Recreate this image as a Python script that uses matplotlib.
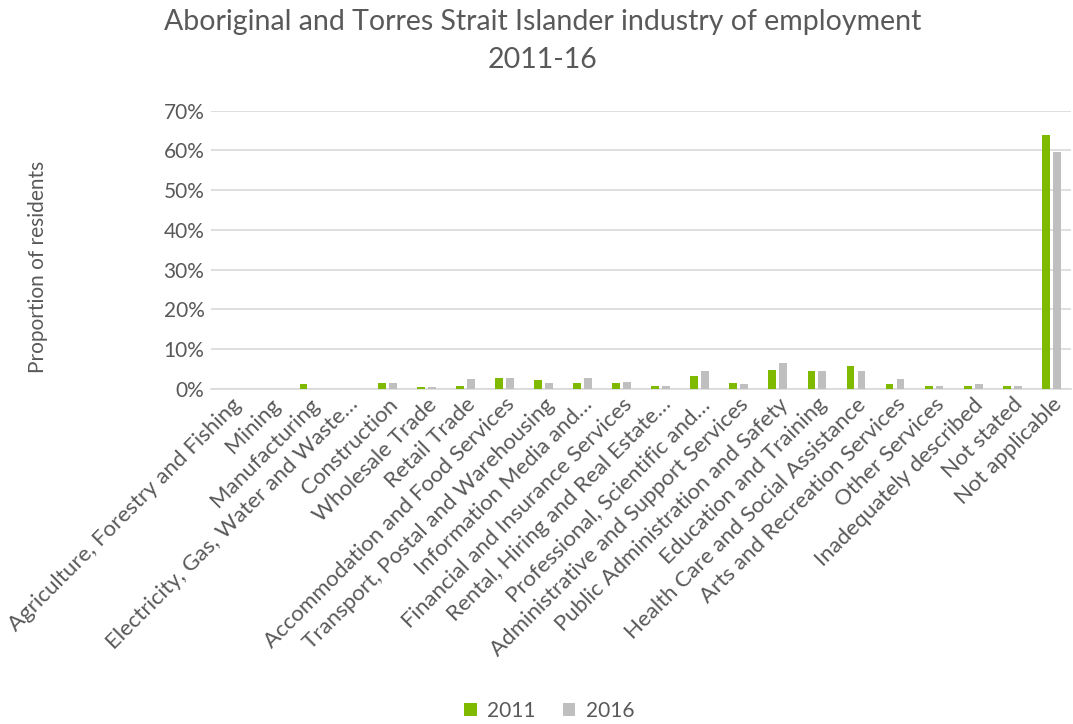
import numpy as np
import matplotlib.pyplot as plt
from matplotlib.ticker import FuncFormatter

plt.rcParams['font.family'] = ['Lato', 'DejaVu Sans']

industries = [
    "Agriculture, Forestry and Fishing",
    "Mining",
    "Manufacturing",
    "Electricity, Gas, Water and Waste…",
    "Construction",
    "Wholesale Trade",
    "Retail Trade",
    "Accommodation and Food Services",
    "Transport, Postal and Warehousing",
    "Information Media and…",
    "Financial and Insurance Services",
    "Rental, Hiring and Real Estate…",
    "Professional, Scientific and…",
    "Administrative and Support Services",
    "Public Administration and Safety",
    "Education and Training",
    "Health Care and Social Assistance",
    "Arts and Recreation Services",
    "Other Services",
    "Inadequately described",
    "Not stated",
    "Not applicable",
]
share_2011 = [0.0, 0.0, 1.3, 0.0, 1.5, 0.5, 0.8, 2.8, 2.1, 1.5, 1.5,
              0.8, 3.1, 1.5, 4.8, 4.4, 5.7, 1.3, 0.8, 0.8, 0.8, 64.0]
share_2016 = [0.0, 0.0, 0.0, 0.0, 1.5, 0.5, 2.4, 2.8, 1.5, 2.8, 1.8,
              0.8, 4.4, 1.3, 6.4, 4.4, 4.4, 2.4, 0.8, 1.3, 0.8, 59.5]
years = ["2011", "2016"]

green = "#7FBA00"
grey = "#BFBFBF"
text_col = "#595959"

fig = plt.figure(figsize=(10.73, 7.24), dpi=100)
ax = fig.add_axes([0.197, 0.463, 0.801, 0.384])

x = np.arange(len(industries))
w = 0.2
ax.bar(x - 0.14, share_2011, w, color=green, label=years[0], zorder=3)
ax.bar(x + 0.14, share_2016, w, color=grey, label=years[1], zorder=3)

ax.set_xlim(-0.5, len(industries) - 0.5)
ax.set_ylim(0, 70)
ax.set_yticks(np.arange(0, 71, 10))
ax.yaxis.set_major_formatter(FuncFormatter(lambda v, p: f"{v:.0f}%"))
ax.grid(axis='y', color="#D9D9D9", linewidth=1.2, zorder=0)

for s in ['top', 'right', 'left']:
    ax.spines[s].set_visible(False)
ax.spines['bottom'].set_color("#D9D9D9")
ax.spines['bottom'].set_linewidth(1.2)

ax.tick_params(axis='both', length=0, colors=text_col)
ax.tick_params(axis='y', pad=5, labelsize=15)
ax.tick_params(axis='x', pad=4, labelsize=16)
ax.set_xticks(x)
ax.set_xticklabels(industries, rotation=45, ha='right', rotation_mode='anchor')

ax.set_ylabel("Proportion of residents", color=text_col, fontsize=15)
ax.yaxis.set_label_coords(-0.19, 0.44)

fig.suptitle("Aboriginal and Torres Strait Islander industry of employment\n2011-16",
             color=text_col, fontsize=20.5, y=0.987, x=0.506, linespacing=1.55)

fig.legend(loc='lower center', ncol=2, frameon=False, fontsize=15,
           bbox_to_anchor=(0.512, -0.022), handlelength=0.6, handleheight=0.6,
           labelcolor=text_col, columnspacing=1.3, handletextpad=0.5)

fig.savefig("out.png", dpi=100)
